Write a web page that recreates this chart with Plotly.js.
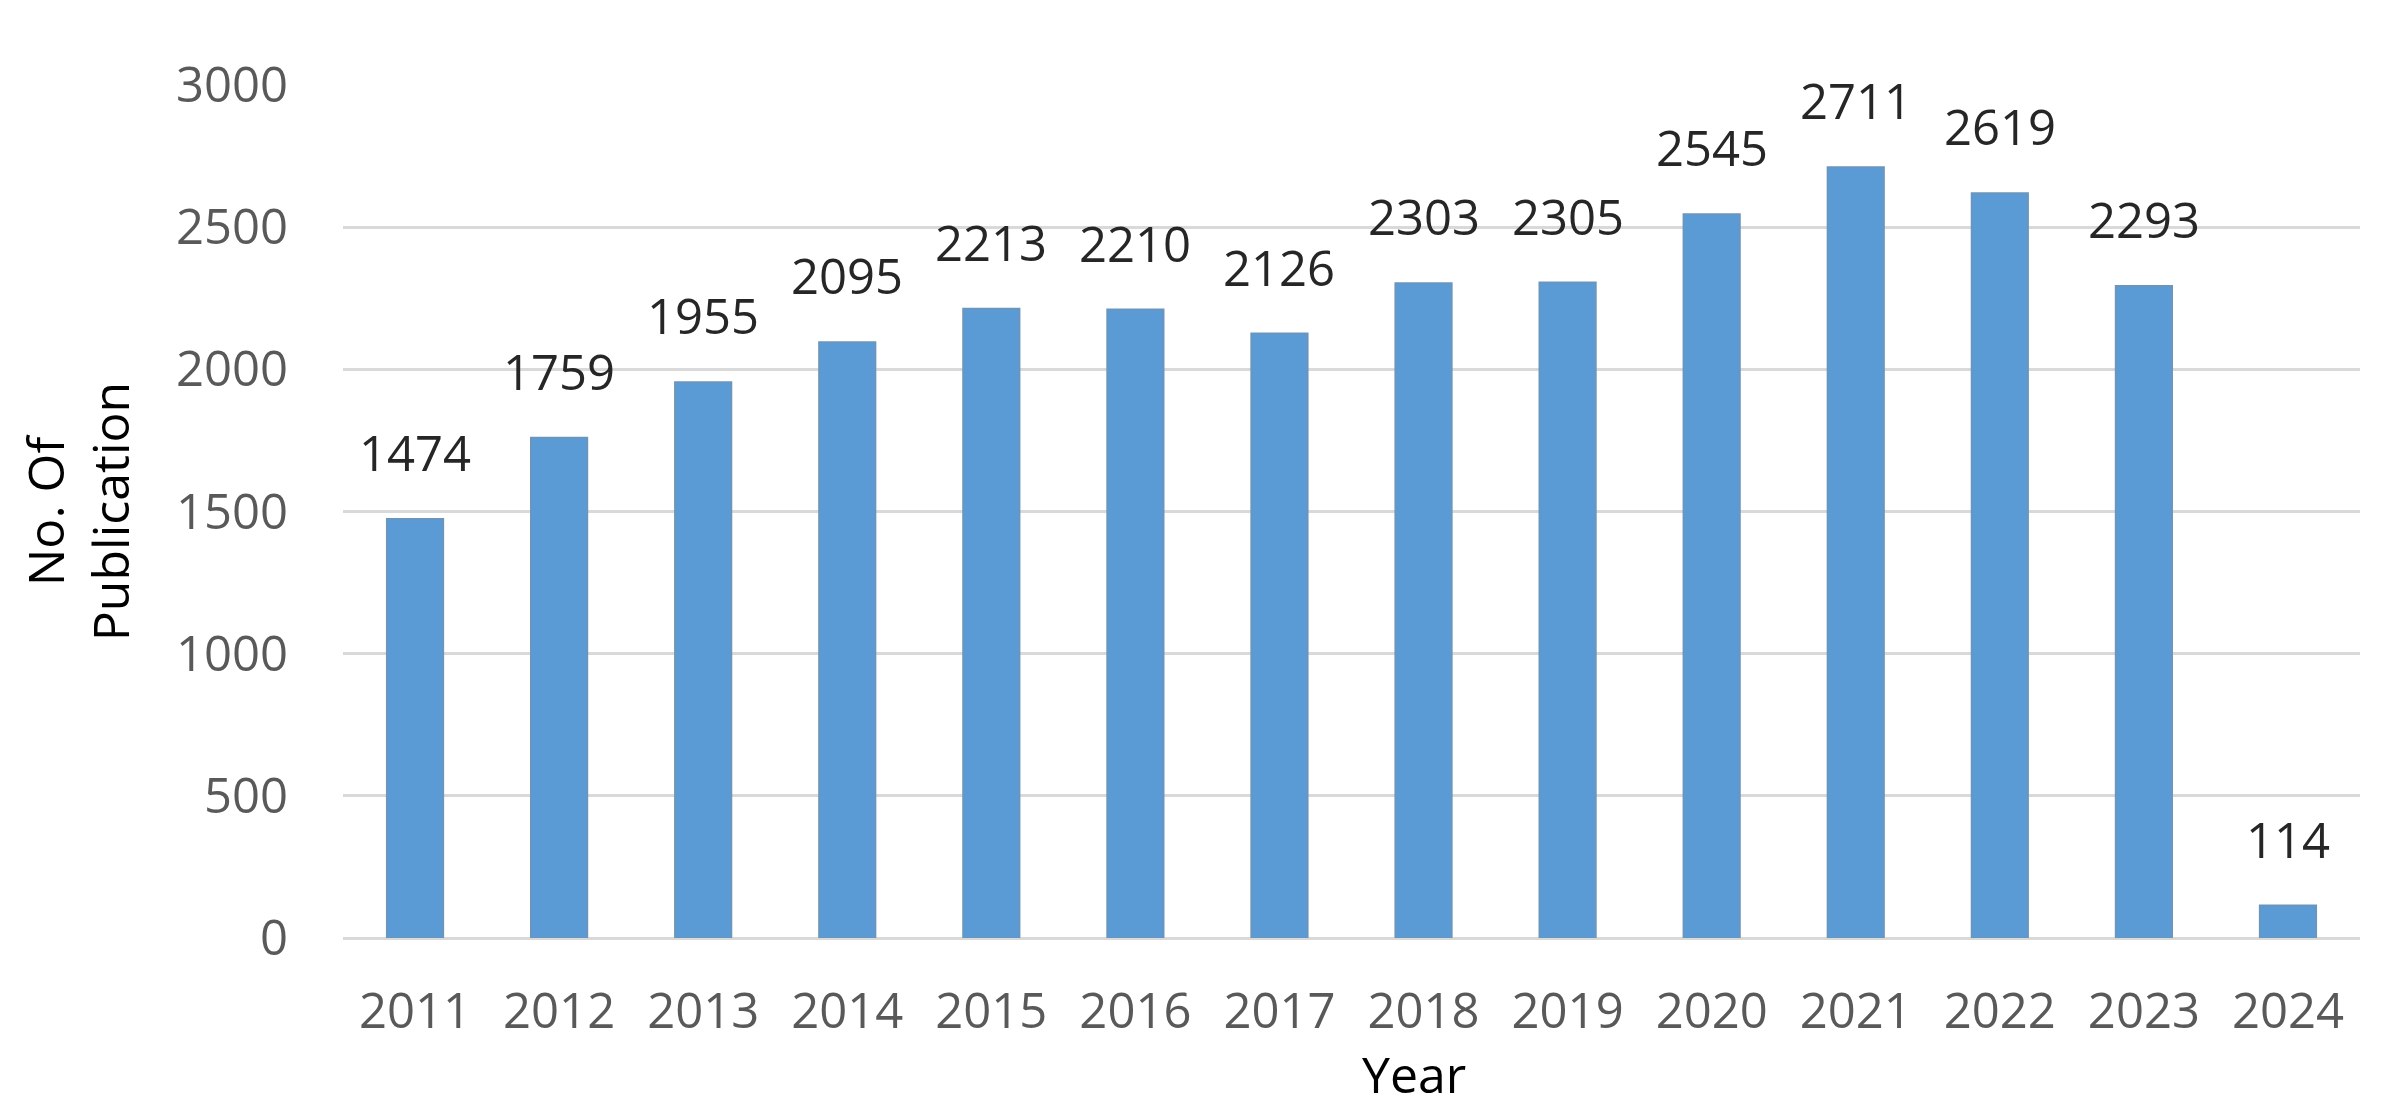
<!DOCTYPE html>
<html>
<head>
<meta charset="utf-8">
<script src="https://cdn.plot.ly/plotly-3.0.1.min.js"></script>
<style>html,body{margin:0;padding:0;background:#fff;}#chart{width:2392px;height:1116px;}</style>
</head>
<body>
<div id="chart"></div>
<script>
const years = ["2011","2012","2013","2014","2015","2016","2017","2018","2019","2020","2021","2022","2023","2024"];
const publications = [1474,1759,1955,2095,2213,2210,2126,2303,2305,2545,2711,2619,2293,114];
const yTicks = [0,500,1000,1500,2000,2500,3000];
const xTitle = "Year";
const yTitle = "No. Of<br>Publication";

const FONT = "Open Sans, Liberation Sans, sans-serif";

const trace = {
  type: "bar",
  x: years,
  y: publications,
  marker: {color: "#5B9BD5", line: {color: "#6A96BE", width: 2}},
  hoverinfo: "x+y"
};

// category index i corresponds to years[i]
const labelAnnotations = years.map((yr, i) => ({
  x: i, y: publications[i], xref: "x", yref: "y",
  text: String(publications[i]),
  showarrow: false, yanchor: "bottom", xanchor: "center",
  yshift: 32,
  font: {family: FONT, size: 49, color: "#262626"}
}));

const layout = {
  width: 2392, height: 1116,
  margin: {l: 343, r: 32, t: 85, b: 178},
  paper_bgcolor: "#ffffff", plot_bgcolor: "#ffffff",
  showlegend: false,
  bargap: 0.61,
  font: {family: FONT, size: 49, color: "#595959"},
  xaxis: {
    type: "category",
    range: [-0.5, years.length - 0.5],
    showgrid: false, zeroline: false, showline: false,
    ticks: "", ticklabelstandoff: 40,
    tickfont: {family: FONT, size: 49, color: "#595959"}
  },
  yaxis: {
    range: [0, 3000],
    tickvals: yTicks,
    showgrid: true, gridcolor: "#D9D9D9", gridwidth: 3,
    zeroline: true, zerolinecolor: "#D9D9D9", zerolinewidth: 3,
    showline: false, ticks: "", ticklabelstandoff: 54,
    tickfont: {family: FONT, size: 49, color: "#595959"},
    title: {text: yTitle, font: {family: FONT, size: 50, color: "#000000"}, standoff: 30}
  },
  annotations: labelAnnotations.concat([{
    xref: "paper", yref: "paper",
    x: (1414 - 343) / 2017, y: -0.16,
    xanchor: "center", yanchor: "middle",
    text: xTitle, showarrow: false,
    font: {family: FONT, size: 50, color: "#000000"}
  }])
};

Plotly.newPlot("chart", [trace], layout, {displayModeBar: false, staticPlot: true});
</script>
</body>
</html>
